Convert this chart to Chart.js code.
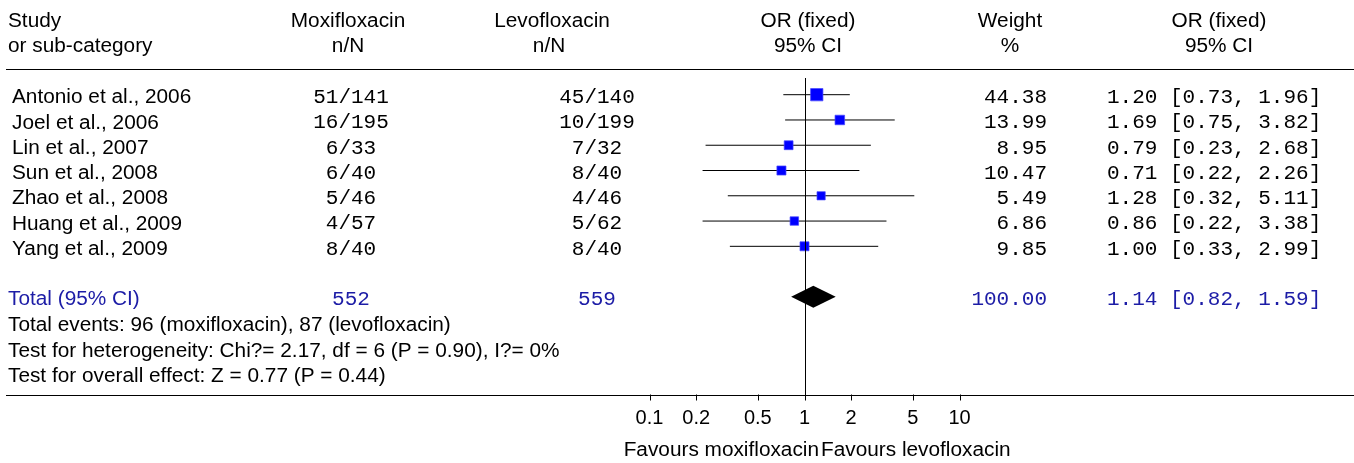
<!DOCTYPE html>
<html><head><meta charset="utf-8">
<script src="https://cdn.jsdelivr.net/npm/chart.js@4"></script>
<style>html,body{margin:0;padding:0;background:#fff;overflow:hidden;}#wrap{width:1354px;height:463px;position:relative;}</style>
</head><body><div id="wrap"><canvas id="c" width="1354" height="463"></canvas></div>
<script>
// ---- data ----
const studies = ['Antonio et al., 2006','Joel et al., 2006','Lin et al., 2007','Sun et al., 2008','Zhao et al., 2008','Huang et al., 2009','Yang et al., 2009'];
const moxiEvents = [51,16,6,6,5,4,8];
const moxiTotals = [141,195,33,40,46,57,40];
const levoEvents = [45,10,7,8,4,5,8];
const levoTotals = [140,199,32,40,46,62,40];
const weights = [44.38,13.99,8.95,10.47,5.49,6.86,9.85];
const oddsRatios = [1.20,1.69,0.79,0.71,1.28,0.86,1.00];
const ciLower = [0.73,0.75,0.23,0.22,0.32,0.22,0.33];
const ciUpper = [1.96,3.82,2.68,2.26,5.11,3.38,2.99];
const totalLabel = 'Total (95% CI)';
const totalN = [552, 559];
const totalWeight = 100.00;
const pooled = [1.14, 0.82, 1.59]; // OR, lower, upper
const xTicks = [0.1, 0.2, 0.5, 1, 2, 5, 10];
const headerTop = ['Study','Moxifloxacin','Levofloxacin','OR (fixed)','Weight','OR (fixed)'];
const headerBottom = ['or sub-category','n/N','n/N','95% CI','%','95% CI'];
const footnotes = ['Total events: 96 (moxifloxacin), 87 (levofloxacin)','Test for heterogeneity: Chi?= 2.17, df = 6 (P = 0.90), I?= 0%','Test for overall effect: Z = 0.77 (P = 0.44)'];
const favourLabels = ['Favours moxifloxacin','Favours levofloxacin'];

// ---- layout / style ----
const W = 1354, H = 463;
const SANS = 'px "Liberation Sans", Arial, sans-serif';
const MONO = 'px "Liberation Mono", "Courier New", monospace';
const BLUE = '#1c1ca6';
const TOTAL_ROW = 8;
const f2 = v => v.toFixed(2);
const ciText = (o,l,u) => f2(o) + ' [' + f2(l) + ', ' + f2(u) + ']';
const squareSide = w => 6 + 0.95 * Math.sqrt(w);

function txt(ctx, s, x, y, align, font, color, sx) {
  sx = sx || 1.04;
  ctx.save();
  ctx.font = font;
  ctx.fillStyle = color || '#000';
  ctx.textBaseline = 'alphabetic';
  ctx.textAlign = align;
  ctx.translate(x, y);
  ctx.scale(sx, 1);
  ctx.fillText(s, 0, 0);
  ctx.restore();
}

const forestPlugin = {
  id: 'forest',
  afterDatasetsDraw(chart) {
    const ctx = chart.ctx, xs = chart.scales.x, ys = chart.scales.y;
    const area = chart.chartArea;
    // pooled diamond
    const yT = ys.getPixelForValue(TOTAL_ROW);
    const h = 11;
    ctx.save();
    ctx.fillStyle = '#000';
    ctx.beginPath();
    ctx.moveTo(xs.getPixelForValue(pooled[1]), yT);
    ctx.lineTo(xs.getPixelForValue(pooled[0]), yT - h);
    ctx.lineTo(xs.getPixelForValue(pooled[2]), yT);
    ctx.lineTo(xs.getPixelForValue(pooled[0]), yT + h);
    ctx.closePath();
    ctx.fill();
    // line of no effect
    const x1 = Math.round(xs.getPixelForValue(1)) + 0.5;
    ctx.strokeStyle = '#000';
    ctx.lineWidth = 1;
    ctx.beginPath();
    ctx.moveTo(x1, 78);
    ctx.lineTo(x1, area.bottom);
    ctx.stroke();
    ctx.restore();
  },
  afterDraw(chart) {
    const ctx = chart.ctx, xs = chart.scales.x, ys = chart.scales.y;
    const area = chart.chartArea;
    ctx.save();
    ctx.strokeStyle = '#000';
    ctx.lineWidth = 1;
    // header rule
    ctx.beginPath(); ctx.moveTo(6, 69.5); ctx.lineTo(W, 69.5); ctx.stroke();
    // axis line
    const ay = Math.round(area.bottom) + 0.5;
    ctx.beginPath(); ctx.moveTo(6, ay); ctx.lineTo(W, ay); ctx.stroke();
    // ticks + labels
    xTicks.forEach(t => {
      const px = Math.round(xs.getPixelForValue(t)) + 0.5;
      ctx.beginPath(); ctx.moveTo(px, ay - 1); ctx.lineTo(px, ay + 5); ctx.stroke();
      txt(ctx, String(t), xs.getPixelForValue(t), 423.5, 'center', '20' + SANS, '#000', 1.0);
    });
    ctx.restore();
    // favours labels
    const xf = xs.getPixelForValue(1);
    txt(ctx, favourLabels[0], xf + 14.5, 456, 'right', '20' + SANS);
    txt(ctx, favourLabels[1], xf + 16.5, 456, 'left', '20' + SANS);

    // headers
    const hx = [[8,'left'],[348,'center'],[552,'center'],[808,'center'],[1010,'center'],[1219,'center']];
    const hx2 = [[8,'left'],[348,'center'],[549,'center'],[808,'center'],[1010,'center'],[1219,'center']];
    headerTop.forEach((s,i) => txt(ctx, s, hx[i][0], 27, hx[i][1], '20' + SANS));
    headerBottom.forEach((s,i) => txt(ctx, s, hx2[i][0], 51.5, hx2[i][1], '20' + SANS));

    // study rows
    studies.forEach((s,i) => {
      const y = ys.getPixelForValue(i);
      txt(ctx, s, 12, y + 8.6, 'left', '20' + SANS);
      txt(ctx, moxiEvents[i] + '/' + moxiTotals[i], 351, y + 8.3, 'center', '21' + MONO, '#000', 1.0);
      txt(ctx, levoEvents[i] + '/' + levoTotals[i], 597, y + 8.3, 'center', '21' + MONO, '#000', 1.0);
      txt(ctx, f2(weights[i]), 1047, y + 8.3, 'right', '21' + MONO, '#000', 1.0);
      txt(ctx, ciText(oddsRatios[i], ciLower[i], ciUpper[i]), 1107, y + 8.3, 'left', '21' + MONO, '#000', 1.0);
    });
    // total row
    const yT = ys.getPixelForValue(TOTAL_ROW);
    txt(ctx, totalLabel, 8, yT + 8.3, 'left', '20' + SANS, BLUE);
    txt(ctx, String(totalN[0]), 351, yT + 8.0, 'center', '21' + MONO, BLUE, 1.0);
    txt(ctx, String(totalN[1]), 597, yT + 8.0, 'center', '21' + MONO, BLUE, 1.0);
    txt(ctx, f2(totalWeight), 1047, yT + 8.0, 'right', '21' + MONO, BLUE, 1.0);
    txt(ctx, ciText(pooled[0], pooled[1], pooled[2]), 1107, yT + 8.0, 'left', '21' + MONO, BLUE, 1.0);
    // footnotes
    const fy = [330.5, 356.5, 382];
    footnotes.forEach((s,i) => txt(ctx, s, 8, fy[i], 'left', '20' + SANS));
  }
};

const ciDatasets = studies.map((s,i) => ({
  type: 'scatter', label: s, showLine: true, order: 2,
  data: [{x: ciLower[i], y: i}, {x: ciUpper[i], y: i}],
  borderColor: '#000', borderWidth: 1, pointRadius: 0, fill: false
}));
const squareDataset = {
  type: 'scatter', label: 'OR', order: 0,
  data: oddsRatios.map((v,i) => ({x: v, y: i})),
  pointStyle: 'rect',
  pointRadius: c => squareSide(weights[c.dataIndex]) * Math.SQRT1_2,
  backgroundColor: '#0000ff', borderColor: 'rgba(70,70,255,0.7)', borderWidth: 1
};

// scale geometry: OR=1 at x≈804.3, one decade ≈ 155 px, chart area x 6..1354
const X1 = 804.5, DEC = 155, LEFT = 6;
const rowTop = 94.7, rowStep = 25.27, bottom = 395.3;

new Chart(document.getElementById('c'), {
  type: 'scatter',
  data: { datasets: [squareDataset, ...ciDatasets] },
  options: {
    responsive: false, animation: false, devicePixelRatio: 1, events: [],
    layout: { autoPadding: false, padding: { left: LEFT, right: 0, top: 0, bottom: H - bottom } },
    plugins: { legend: { display: false }, tooltip: { enabled: false } },
    scales: {
      x: { type: 'logarithmic', display: false, bounds: 'data',
           min: Math.pow(10, -(X1 - LEFT) / DEC), max: Math.pow(10, (W - X1) / DEC) },
      y: { type: 'linear', display: false, reverse: true, bounds: 'data',
           min: -rowTop / rowStep, max: (bottom - rowTop) / rowStep }
    }
  },
  plugins: [forestPlugin]
});
</script>
</body></html>
